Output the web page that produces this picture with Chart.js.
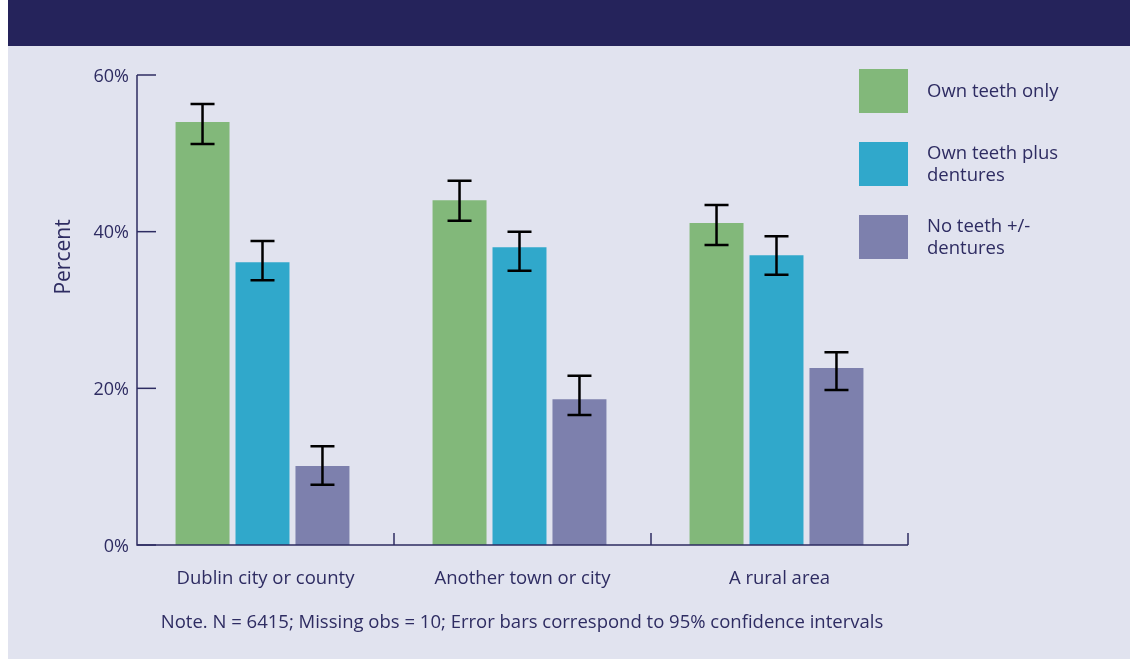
<!DOCTYPE html>
<html>
<head>
<meta charset="utf-8">
<script src="https://cdn.jsdelivr.net/npm/chart.js@4/dist/chart.umd.min.js"></script>
<style>
  html, body { margin: 0; padding: 0; background: #ffffff; }
  canvas { display: block; }
</style>
</head>
<body>
<canvas id="zubi" width="1130" height="659"></canvas>
<script>
// Podaci za grafikon
const kategorije = ['Dublin city or county', 'Another town or city', 'A rural area'];
const serije = [['Own teeth only'], ['Own teeth plus', 'dentures'], ['No teeth +/-', 'dentures']];
const boje = ['#82b87a', '#30a8cb', '#7d80ad'];

const vlastitiZubi = [54.0, 44.0, 41.1];
const zubiIProteza = [36.1, 38.0, 37.0];
const bezZuba = [10.1, 18.6, 22.6];

// 95% intervali pouzdanosti (donja i gornja granica)
const donjaGranica = [[51.2, 41.4, 38.3], [33.8, 35.0, 34.5], [7.7, 16.6, 19.8]];
const gornjaGranica = [[56.3, 46.5, 43.4], [38.8, 40.0, 39.4], [12.6, 21.6, 24.6]];

const yOznake = [0, 20, 40, 60];
const napomena = 'Note. N = 6415; Missing obs = 10; Error bars correspond to 95% confidence intervals';

const tamna = '#2e2c62';
const font = '"Open Sans", "Noto Sans", sans-serif';
const pomak = 3; // os je malo desno od ruba grupa

// Pozadina, osi, legenda i error barovi
const crtanje = {
    id: 'crtanje',
    beforeDraw(chart) {
        const c = chart.ctx;
        c.save();
        c.fillStyle = '#ffffff';
        c.fillRect(0, 0, chart.width, chart.height);
        c.fillStyle = '#e1e3ef';
        c.fillRect(8, 0, chart.width - 8, chart.height);
        c.fillStyle = '#25235b';
        c.fillRect(8, 0, chart.width - 8, 46);
        c.restore();
    },
    afterDatasetsDraw(chart) {
        const c = chart.ctx;
        const y = chart.scales.y;
        const x = chart.scales.x;
        const a = chart.chartArea;
        const lijevo = a.left + pomak;
        const desno = a.right + pomak;
        c.save();

        // error barovi
        c.strokeStyle = '#000000';
        c.lineWidth = 2.5;
        chart.data.datasets.forEach((ds, i) => {
            chart.getDatasetMeta(i).data.forEach((bar, j) => {
                const g = y.getPixelForValue(gornjaGranica[i][j]);
                const d = y.getPixelForValue(donjaGranica[i][j]);
                c.beginPath();
                c.moveTo(bar.x, g); c.lineTo(bar.x, d);
                c.moveTo(bar.x - 12, g); c.lineTo(bar.x + 12, g);
                c.moveTo(bar.x - 12, d); c.lineTo(bar.x + 12, d);
                c.stroke();
            });
        });

        // osi
        c.strokeStyle = tamna;
        c.lineWidth = 1.5;
        c.beginPath();
        c.moveTo(lijevo, y.getPixelForValue(60));
        c.lineTo(lijevo, a.bottom);
        c.lineTo(desno, a.bottom);
        c.stroke();

        c.fillStyle = tamna;
        c.font = '18px ' + font;
        c.textAlign = 'right';
        c.textBaseline = 'middle';
        yOznake.forEach(v => {
            const py = y.getPixelForValue(v);
            c.beginPath();
            c.moveTo(lijevo, py); c.lineTo(lijevo + 19, py);
            c.stroke();
            c.fillText(v + '%', lijevo - 8, py + 1.5);
        });

        // crtice između kategorija
        const korak = (a.right - a.left) / kategorije.length;
        for (let k = 1; k <= kategorije.length; k++) {
            const px = lijevo + korak * k;
            c.beginPath();
            c.moveTo(px, a.bottom); c.lineTo(px, a.bottom - 12);
            c.stroke();
        }

        c.font = '18.5px ' + font;
        c.textAlign = 'center';
        kategorije.forEach((k, j) => {
            c.fillText(k, x.getPixelForValue(j) + pomak, 579);
        });

        c.fillText(napomena, 522, 623);

        // naslov y osi
        c.save();
        c.translate(64, 257);
        c.rotate(-Math.PI / 2);
        c.font = '21px ' + font;
        c.fillText('Percent', 0, 0);
        c.restore();

        // legenda
        c.textAlign = 'left';
        c.font = '18.5px ' + font;
        chart.data.datasets.forEach((ds, i) => {
            const top = 69 + i * 73;
            c.fillStyle = ds.backgroundColor;
            c.fillRect(859, top, 49, 44);
            c.fillStyle = tamna;
            const linije = serije[i];
            const start = top + 23 - (linije.length - 1) * 11;
            linije.forEach((l, n) => c.fillText(l, 927, start + n * 22));
        });

        c.restore();
    }
};

const ctx = document.getElementById('zubi').getContext('2d');
new Chart(ctx, {
    type: 'bar',
    data: {
        labels: kategorije,
        datasets: [
            { label: serije[0].join(' '), data: vlastitiZubi, backgroundColor: boje[0] },
            { label: serije[1].join(' '), data: zubiIProteza, backgroundColor: boje[1] },
            { label: serije[2].join(' '), data: bezZuba, backgroundColor: boje[2] }
        ]
    },
    options: {
        responsive: false,
        animation: false,
        layout: { padding: { left: 134, right: 225, top: 75, bottom: 114 } },
        plugins: { legend: { display: false }, tooltip: { enabled: false } },
        datasets: { bar: { categoryPercentage: 0.70, barPercentage: 0.9 } },
        scales: {
            x: { display: false, grid: { display: false } },
            y: { display: false, min: 0, max: 60 }
        }
    },
    plugins: [crtanje]
});
</script>
</body>
</html>
